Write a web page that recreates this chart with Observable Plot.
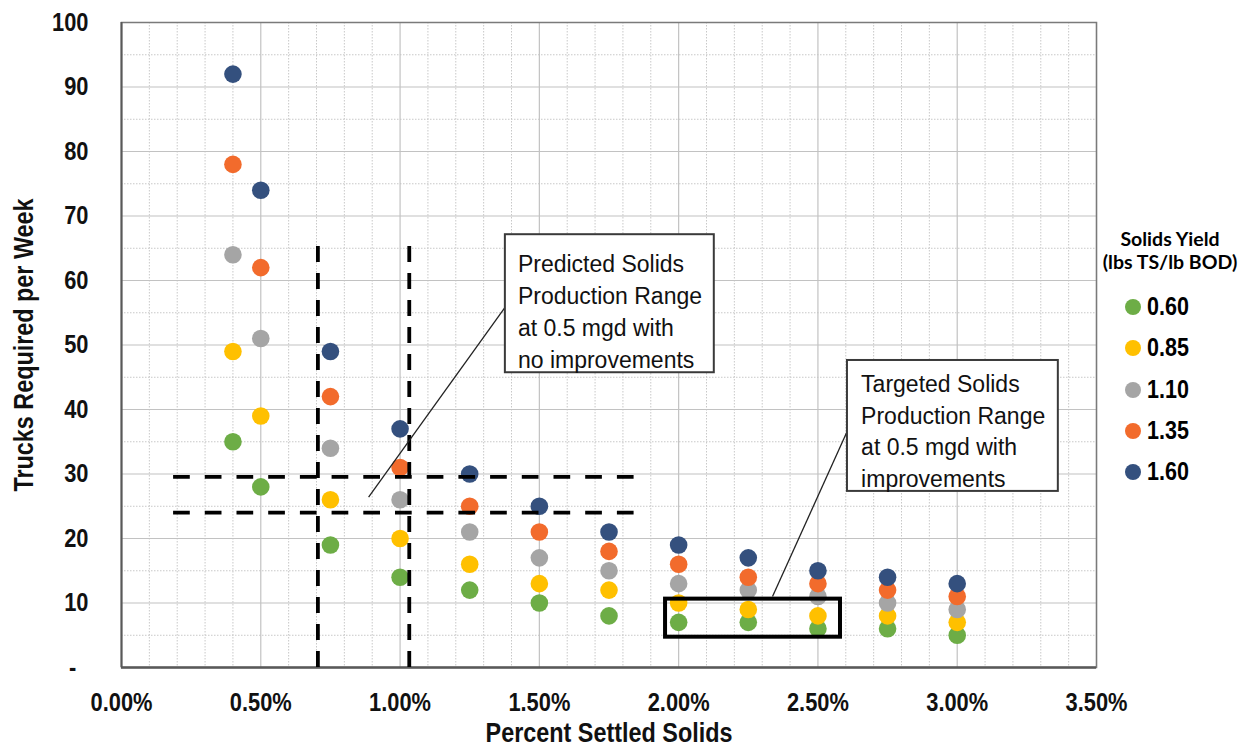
<!DOCTYPE html>
<html>
<head>
<meta charset="utf-8">
<script src="https://cdn.jsdelivr.net/npm/d3@7"></script>
<script src="https://cdn.jsdelivr.net/npm/@observablehq/plot@0.6"></script>
<style>
  html, body { margin: 0; padding: 0; background: #fff; }
  #wrap { position: relative; width: 1247px; height: 753px; }
  #legend { position: absolute; left: 1100px; top: 0; width: 147px; height: 753px; color: #000; }
  #legend .title { position: absolute; left: 0; width: 140px; top: 227px; font-family: Lato, 'Open Sans', 'Liberation Sans', sans-serif; font-weight: bold; font-size: 19.5px; line-height: 23px; text-align: center; white-space: nowrap; }
  #legend .sw { position: absolute; width: 16px; height: 16px; border-radius: 50%; }
  #legend .lab { position: absolute; font-family: 'Liberation Sans', Arial, sans-serif; font-weight: bold; font-size: 25px; line-height: 30px; transform: scaleX(0.86); transform-origin: left center; }
</style>
</head>
<body>
<div id="wrap"></div>
<script>
// ---- data ----
const settledPct = [0.40, 0.50, 0.75, 1.00, 1.25, 1.50, 1.75, 2.00, 2.25, 2.50, 2.75, 3.00];
const yieldLabels = ["0.60", "0.85", "1.10", "1.35", "1.60"];
const trucks060 = [35, 28, 19, 14, 12, 10, 8, 7, 7, 6, 6, 5];
const trucks085 = [49, 39, 26, 20, 16, 13, 12, 10, 9, 8, 8, 7];
const trucks110 = [64, 51, 34, 26, 21, 17, 15, 13, 12, 11, 10, 9];
const trucks135 = [78, 62, 42, 31, 25, 21, 18, 16, 14, 13, 12, 11];
const trucks160 = [92, 74, 49, 37, 30, 25, 21, 19, 17, 15, 14, 13];
const yieldColors = ["#6DAD46", "#FFC000", "#A5A5A5", "#F26B2C", "#34507E"];

const xMajorTicks = [0, 0.5, 1.0, 1.5, 2.0, 2.5, 3.0, 3.5];
const yMajorTicks = [0, 10, 20, 30, 40, 50, 60, 70, 80, 90, 100];

// predicted range (dashed lines)
const predictedXs = [0.705, 1.033];
const predictedXTop = 66.2;
const predictedYs = [24.0, 29.55];
const predictedYSpan = [0.187, 1.845];
// targeted range (black box)
const targetBox = [{x1: 1.953, x2: 2.581, y1: 4.7, y2: 10.6}];

// callouts
const calloutBoxes = [
  {x1: 1.378, x2: 2.128, y1: 45.7, y2: 67.1},
  {x1: 2.606, x2: 3.363, y1: 27.3, y2: 47.6}
];
const calloutTexts = [
  {x: 1.423, y: 64.85, text: "Predicted Solids\nProduction Range\nat 0.5 mgd with\nno improvements"},
  {x: 2.655, y: 46.3, text: "Targeted Solids\nProduction Range\nat 0.5 mgd with\nimprovements"}
];
const calloutLeaders = [
  {x1: 0.887, y1: 26.4, x2: 1.378, y2: 55.9},
  {x1: 2.337, y1: 11.0, x2: 2.606, y2: 36.7}
];

// ---- build table ----
const seriesValues = [trucks060, trucks085, trucks110, trucks135, trucks160];
const points = [];
seriesValues.forEach((vals, i) => vals.forEach((v, j) => points.push({pct: settledPct[j], trucks: v, yield: yieldLabels[i]})));

const bold = "'Liberation Sans', Arial, sans-serif";
const xMinor = d3.range(0, 36).map(i => i / 10).filter(v => !xMajorTicks.some(t => Math.abs(t - v) < 1e-9));
const yMinor = d3.range(5, 100, 10);

const chart = Plot.plot({
  width: 1247,
  height: 753,
  marginLeft: 121,
  marginRight: 151,
  marginTop: 22,
  marginBottom: 86,
  x: {domain: [0, 3.5]},
  y: {domain: [0, 100]},
  color: {domain: yieldLabels, range: yieldColors},
  style: {fontFamily: bold, background: "#fff", overflow: "visible", color: "#000"},
  marks: [
    Plot.ruleX(xMinor, {stroke: "#c8c8c8", strokeDasharray: "1.5,1.5"}),
    Plot.ruleY(yMinor, {stroke: "#c8c8c8", strokeDasharray: "1.5,1.5"}),
    Plot.ruleX(xMajorTicks, {stroke: "#c2c2c2", strokeWidth: 1.2}),
    Plot.ruleY(yMajorTicks, {stroke: "#c2c2c2", strokeWidth: 1.2}),
    Plot.frame({stroke: "#7a7a7a", strokeWidth: 1.5}),
    Plot.ruleY([0], {stroke: "#595959", strokeWidth: 2.5}),
    Plot.ruleX([0], {stroke: "#595959", strokeWidth: 2}),
    Plot.axisX({ticks: xMajorTicks, tickSize: 0, tickPadding: 25, tickFormat: d => d.toFixed(2) + "%", fontSize: 26, fontWeight: "bold", label: null, fill: "#111"}),
    Plot.axisY({ticks: yMajorTicks, tickSize: 0, tickPadding: 33, tickFormat: d => d === 0 ? "-\u2007" : String(d), fontSize: 26, fontWeight: "bold", label: null, fill: "#111"}),
    Plot.dot(points, {x: "pct", y: "trucks", fill: "yield", r: 8.8}),
    Plot.ruleX(predictedXs, {y1: 0, y2: predictedXTop, stroke: "#000", strokeWidth: 3.8, strokeDasharray: "16,11"}),
    Plot.ruleY(predictedYs, {x1: predictedYSpan[0], x2: predictedYSpan[1], stroke: "#000", strokeWidth: 3.8, strokeDasharray: "16.7,15"}),
    Plot.rect(targetBox, {x1: "x1", x2: "x2", y1: "y1", y2: "y2", fill: "none", stroke: "#000", strokeWidth: 4}),
    Plot.link(calloutLeaders, {x1: "x1", y1: "y1", x2: "x2", y2: "y2", stroke: "#222", strokeWidth: 1.3}),
    Plot.rect(calloutBoxes, {x1: "x1", x2: "x2", y1: "y1", y2: "y2", fill: "#fff", stroke: "#3a3a3a", strokeWidth: 2}),
    Plot.text(calloutTexts, {x: "x", y: "y", text: "text", textAnchor: "start", lineAnchor: "top", lineHeight: 1.39, fontSize: 23, fontWeight: "normal", fill: "#111"}),
    Plot.text(["Trucks Required per Week"], {frameAnchor: "left", text: d => d, rotate: -90, dx: -97, textAnchor: "middle", lineAnchor: "middle", fontSize: 28, fontWeight: "bold", fill: "#111", className: "ytitle"}),
    Plot.text(["Percent Settled Solids"], {frameAnchor: "bottom", text: d => d, dy: 66, textAnchor: "middle", lineAnchor: "middle", fontSize: 28, fontWeight: "bold", fill: "#111", className: "xtitle"})
  ]
});

const wrap = document.getElementById("wrap");
wrap.appendChild(chart);

// narrow (condensed) rendering of the bold labels
function condense(el, factor) {
  const len = el.getComputedTextLength();
  if (len > 0) {
    el.setAttribute("textLength", (len * factor).toFixed(2));
    el.setAttribute("lengthAdjust", "spacingAndGlyphs");
  }
}
chart.querySelectorAll('g[aria-label="x-axis tick label"] text, g[aria-label="y-axis tick label"] text').forEach(el => condense(el, 0.84));
chart.querySelectorAll('.ytitle text, .xtitle text, g.ytitle text, g.xtitle text').forEach(el => condense(el, 0.835));

// legend
const legend = document.createElement("div");
legend.id = "legend";
legend.innerHTML = '<div class="title">Solids Yield<br>(lbs TS/lb BOD)</div>';
yieldLabels.forEach((lab, i) => {
  const cy = 307 + i * 41.3;
  const sw = document.createElement("span");
  sw.className = "sw";
  sw.style.left = (1133 - 1100 - 8) + "px";
  sw.style.top = (cy - 8) + "px";
  sw.style.background = yieldColors[i];
  legend.appendChild(sw);
  const t = document.createElement("span");
  t.className = "lab";
  t.style.left = (1147 - 1100) + "px";
  t.style.top = (cy - 16) + "px";
  t.textContent = lab;
  legend.appendChild(t);
});
wrap.appendChild(legend);
</script>
</body>
</html>
